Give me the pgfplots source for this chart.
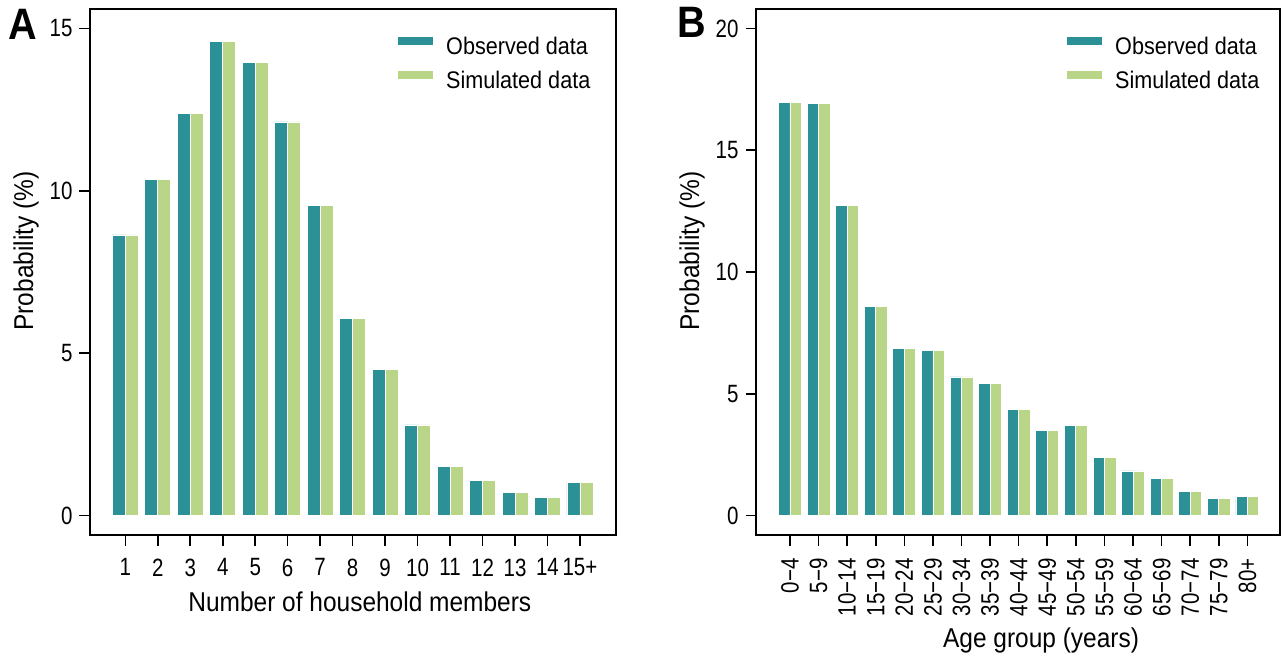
\documentclass[border=0pt]{standalone}
\usepackage{fontspec}
\setmainfont{Liberation Sans}[FakeStretch=0.9]
\newfontfamily\condfont{Liberation Sans}[FakeStretch=0.82]
\usepackage{pgfplots}
\pgfplotsset{compat=1.18}
\definecolor{obs}{RGB}{43,145,151}
\definecolor{sim}{RGB}{185,213,135}
\pgfplotsset{
  panel/.style={
    scale only axis, height=263pt,
    axis line style={line width=0.8pt},
    tick align=outside, xtick pos=bottom, ytick pos=left,
    major tick length=5.25pt,
    every tick/.style={black, line width=0.8pt},
    xtick=data,
    tick label style={font=\condfont\fontsize{12.5}{14}\selectfont},
    /pgf/number format/assume math mode=true,
    label style={font=\fontsize{13.6}{15}\selectfont},
    xticklabel style={yshift=-3pt},
    legend style={draw=none, fill=none, anchor=north west, inner sep=0pt, row sep=5.5pt,
      font=\fontsize{12}{14}\selectfont,
      nodes={inner sep=0pt, text height=8.5pt, text depth=2.5pt}},
    legend cell align=left,
    legend image code/.code={\fill[##1, draw=none] (0pt,2pt) rectangle (17.5pt,6pt); \path (0pt,0pt) -- (24pt,0pt);},
    ylabel style={at={(axis description cs:0,0.54)}, anchor=center, yshift=32pt},
    ylabel={Probability (\%)},
  },
  obsbar/.style={ybar, bar width=0.4, bar shift=-0.2, fill=obs, draw=white, line width=0.4pt},
  simbar/.style={ybar, bar width=0.4, bar shift=0.2, fill=sim, draw=white, line width=0.4pt},
}
\begin{document}
\begin{tikzpicture}
\path[use as bounding box] (0,0) rectangle (641.5pt,329pt);
\begin{axis}[panel, at={(45pt,61.5pt)}, anchor=south west, width=263pt,
  xmin=-0.087, xmax=16.11, ymin=-0.6, ymax=15.6, ytick={0,5,10,15},
  xticklabels={1,2,3,4,5,6,7,8,9,10,11,12,13,14,15+},
  xlabel={Number of household members},
  xlabel style={at={(axis description cs:0.513,0)}, anchor=base, yshift=-38pt},
  legend style={at={(axis description cs:0.5837,0.948)}}]
\addplot[obsbar] coordinates {(1,8.64) (2,10.36) (3,12.39) (4,14.60) (5,13.95) (6,12.12) (7,9.55) (8,6.08) (9,4.51) (10,2.79) (11,1.50) (12,1.09) (13,0.72) (14,0.57) (15,1.01)};
\addplot[simbar] coordinates {(1,8.64) (2,10.36) (3,12.39) (4,14.60) (5,13.95) (6,12.12) (7,9.55) (8,6.08) (9,4.51) (10,2.79) (11,1.50) (12,1.09) (13,0.72) (14,0.57) (15,1.01)};
\legend{Observed data, Simulated data}
\end{axis}
\begin{axis}[panel, at={(378pt,61.5pt)}, anchor=south west, width=262pt,
  xmin=-0.187, xmax=18.14, ymin=-0.8, ymax=20.8, ytick={0,5,10,15,20},
  xticklabels={{0−4},{5−9},{10−14},{15−19},{20−24},{25−29},{30−34},{35−39},{40−44},{45−49},{50−54},{55−59},{60−64},{65−69},{70−74},{75−79},{80+}},
  xticklabel style={rotate=90, anchor=east},
  xlabel={Age group (years)},
  xlabel style={at={(axis description cs:0.544,0)}, anchor=base, yshift=-56pt},
  legend style={at={(axis description cs:0.5916,0.948)}}]
\addplot[obsbar] coordinates {(1,16.96) (2,16.92) (3,12.72) (4,8.59) (5,6.85) (6,6.79) (7,5.69) (8,5.42) (9,4.37) (10,3.48) (11,3.71) (12,2.40) (13,1.83) (14,1.51) (15,1.00) (16,0.71) (17,0.80)};
\addplot[simbar] coordinates {(1,16.96) (2,16.92) (3,12.72) (4,8.59) (5,6.85) (6,6.79) (7,5.69) (8,5.42) (9,4.37) (10,3.48) (11,3.71) (12,2.40) (13,1.83) (14,1.51) (15,1.00) (16,0.71) (17,0.80)};
\legend{Observed data, Simulated data}
\end{axis}
\node[font=\bfseries\fontsize{22}{24}\selectfont, anchor=base west, inner sep=0pt] at (4pt,309pt) {A};
\node[font=\bfseries\fontsize{22}{24}\selectfont, anchor=base west, inner sep=0pt] at (338.5pt,310pt) {B};
\end{tikzpicture}
\end{document}
